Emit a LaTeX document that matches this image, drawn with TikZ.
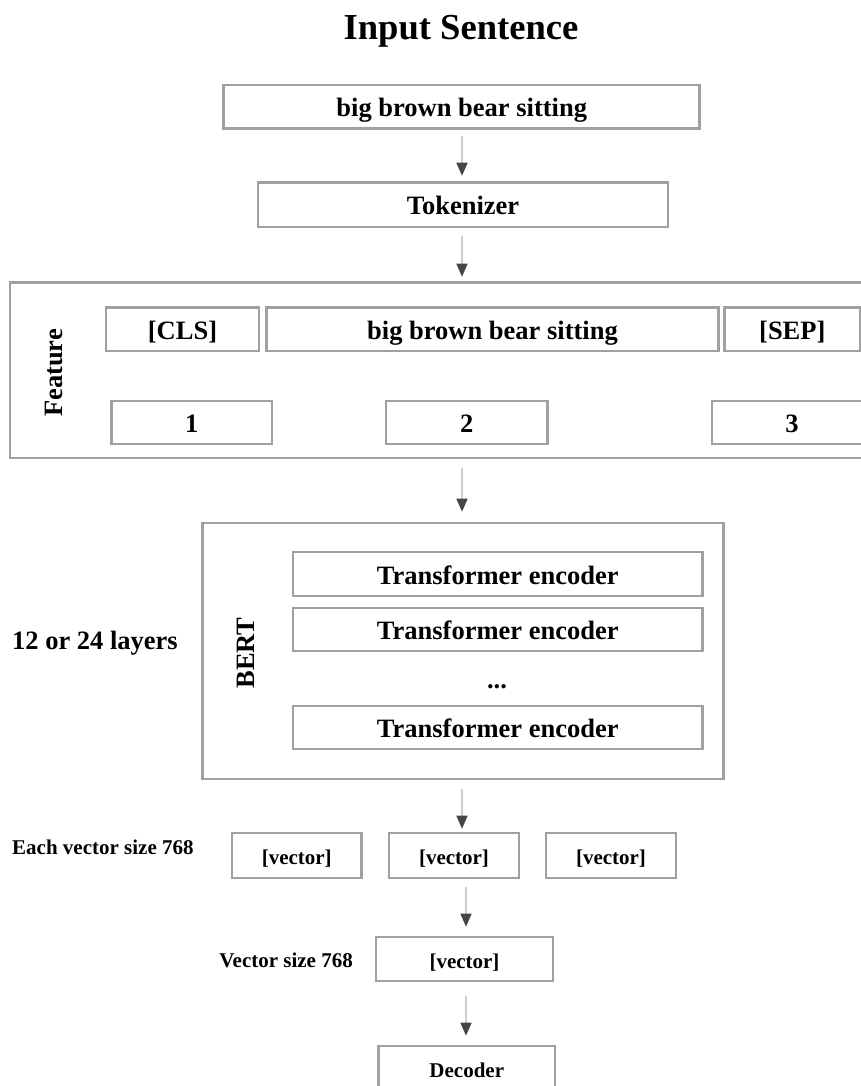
\documentclass[tikz,border=0pt]{standalone}
\usepackage{fontspec}
\setmainfont{Liberation Serif}
\usetikzlibrary{arrows.meta}
\definecolor{boxgray}{RGB}{160,160,160}
\definecolor{shaftgray}{RGB}{205,205,205}
\definecolor{headgray}{RGB}{70,70,70}
\tikzset{
  bigfont/.style={font=\bfseries\fontsize{26.5}{30}\selectfont},
  smallfont/.style={font=\bfseries\fontsize{21}{25}\selectfont},
  bigtext/.style={bigfont, text height=22pt, text depth=2pt},
  smalltext/.style={smallfont, text height=18pt, text depth=0pt},
  stepbox/.style={draw=boxgray, line width=2.6pt, rectangle, inner sep=0pt, align=center},
  arr/.style={draw=shaftgray, line width=1.6pt,
    -{Triangle[length=13pt, width=11pt, color=headgray]}},
}
\begin{document}
\begin{tikzpicture}[x=1pt, y=-1pt]
\useasboundingbox (0,0) rectangle (861,1086);
\clip (0,0) rectangle (861,1086);

% axis along which the vertical arrows run
\coordinate (axis) at (462,0);
\coordinate (axisb) at (466,0);

% title
\node[anchor=base, font=\bfseries\fontsize{36.6}{40}\selectfont] (title) at (461,40) {Input Sentence};

% input and tokenizer
\node[stepbox, bigtext, minimum width=476pt, minimum height=43.7pt] (in) at (461.75,106.9) {big brown bear sitting};
\node[stepbox, bigtext, minimum width=410pt, minimum height=44.3pt] (tok) at (463,204.9) {Tokenizer};

% feature block
\node[stepbox, minimum width=862pt, minimum height=175.3pt] (feat) at (441,370.35) {};
\node[bigfont, rotate=90] (featlbl) at (53.5,373) {Feature};
\node[stepbox, bigtext, minimum width=153pt, minimum height=43.3pt] (cls) at (182.5,329.4) {[CLS]};
\node[stepbox, bigtext, minimum width=452pt, minimum height=43.3pt] (ftok) at (492.5,329.4) {big brown bear sitting};
\node[stepbox, bigtext, minimum width=135.4pt, minimum height=43.3pt] (sep) at (792.3,329.4) {[SEP]};
\node[stepbox, bigtext, minimum width=160.5pt, minimum height=43pt] (n1) at (191.75,422.5) {1};
\node[stepbox, bigtext, minimum width=161.5pt, minimum height=43pt] (n2) at (466.75,422.5) {2};
\node[stepbox, bigtext, minimum width=160pt, minimum height=43pt] (n3) at (792,422.5) {3};

% BERT block
\node[stepbox, minimum width=521pt, minimum height=256pt] (bert) at (463,651) {};
\node[bigfont, rotate=90] (bertlbl) at (245.6,653) {BERT};
\node[stepbox, bigtext, minimum width=409.5pt, minimum height=44pt] (te1) at (497.75,574) {Transformer encoder};
\node[stepbox, bigtext, minimum width=409.5pt, minimum height=43pt] (te2) at (497.75,629.5) {Transformer encoder};
\node[bigfont, anchor=base] (dots) at (497,688) {...};
\node[stepbox, bigtext, minimum width=409.5pt, minimum height=43pt] (te3) at (497.75,727.5) {Transformer encoder};
\node[bigfont, anchor=west, inner sep=0pt] (layers) at (12,643) {12 or 24 layers};

% output vectors
\node[smallfont, anchor=west, inner sep=0pt] (eachlbl) at (12,847) {Each vector size 768};
\node[stepbox, smalltext, minimum width=129.5pt, minimum height=45pt] (v1) at (296.75,855.5) {[vector]};
\node[stepbox, smalltext, minimum width=130pt, minimum height=45pt] (v2) at (454,855.5) {[vector]};
\node[stepbox, smalltext, minimum width=130pt, minimum height=45pt] (v3) at (611,855.5) {[vector]};

\node[smallfont, anchor=east, inner sep=0pt] (vslbl) at (353,960) {Vector size 768};
\node[stepbox, smalltext, minimum width=177pt, minimum height=44pt] (vs) at (464.5,959) {[vector]};

\node[stepbox, smalltext, minimum width=176.4pt, minimum height=44pt] (dec) at (466.8,1068) {Decoder};

% arrows
\draw[arr, shorten <=6pt, shorten >=5.7pt] (in.south -| axis) -- (tok.north -| axis);
\draw[arr, shorten <=8pt, shorten >=4.7pt] (tok.south -| axis) -- (feat.north -| axis);
\draw[arr, shorten <=9pt, shorten >=10pt] (feat.south -| axis) -- (bert.north -| axis);
\draw[arr, shorten <=9pt, shorten >=3pt] (bert.south -| axis) -- (v2.north -| axis);
\draw[arr, shorten <=8pt, shorten >=9pt] (v2.south -| axisb) -- (vs.north -| axisb);
\draw[arr, shorten <=14pt, shorten >=9pt] (vs.south -| axisb) -- (dec.north -| axisb);
\end{tikzpicture}
\end{document}
